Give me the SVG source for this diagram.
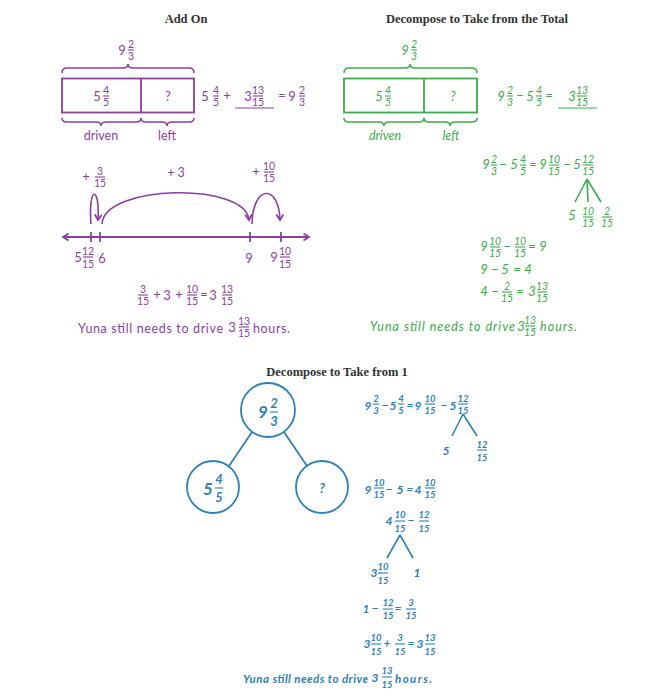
<svg xmlns="http://www.w3.org/2000/svg" width="662" height="698" viewBox="0 0 662 698">
<defs>
<linearGradient id="gl" x1="0" x2="1" y1="0" y2="0"><stop offset="0" stop-color="#f6f6f6"/><stop offset="1" stop-color="#dadada"/></linearGradient>
<linearGradient id="gt" x1="0" x2="0" y1="0" y2="1"><stop offset="0" stop-color="#eaeaea"/><stop offset="1" stop-color="#dcdcdc"/></linearGradient>
<marker id="nlp" markerUnits="userSpaceOnUse" markerWidth="10" markerHeight="10" refX="6" refY="4" orient="auto-start-reverse"><path d="M0.5,0.5 L6,4 L0.5,7.5" fill="none" stroke="#8c3f9e" stroke-width="1.8"/></marker>
<marker id="arp" markerUnits="userSpaceOnUse" markerWidth="10" markerHeight="10" refX="6" refY="4" orient="auto"><path d="M0.5,0.5 L6,4 L0.5,7.5" fill="none" stroke="#8c3f9e" stroke-width="1.8"/></marker>
</defs>
<style>
text{stroke:none}
.t{font-family:"Liberation Serif",serif;font-weight:bold;font-size:12.5px;fill:#333;text-anchor:middle}
.pu{fill:#8c3f9e;stroke:#8c3f9e;font-family:Lato,"Open Sans",sans-serif}
.gr{fill:#3dab4b;stroke:#3dab4b;font-family:Lato,"Open Sans",sans-serif;font-style:italic}
.bl{fill:#2f80b5;stroke:#2f80b5;font-family:Lato,"Open Sans",sans-serif;font-style:italic;font-weight:bold}
.w{font-size:13px;text-anchor:middle}
.f{font-size:10.5px;text-anchor:middle}
.s{font-size:12.5px}
.bl .w{font-size:12px}
.bl .f{font-size:9.5px}
line,path,rect,circle{fill:none}
.fb{stroke-width:1.1}
.bx{stroke-width:1.8}
.br{stroke-width:1.6}
</style>
<rect x="0" y="0" width="662" height="698" fill="#fff"/>
<rect x="0" y="0" width="11" height="698" fill="url(#gl)"/>
<rect x="0" y="0" width="662" height="7" fill="url(#gt)"/>

<!-- ===== Add On ===== -->
<g id="addon-title"><text class="t" x="186" y="23">Add On</text></g>
<g id="addon-bar" class="pu">
<text class="w" x="122" y="55">9</text><text class="f" x="131" y="48">2</text><line class="fb" x1="128" x2="134" y1="50" y2="50"/><text class="f" x="131" y="60">3</text>
<path class="br" d="M62,73 Q62,68 67,68 L123,68 Q128,68 128,64 Q128,68 133,68 L189,68 Q194,68 194,73"/>
<rect class="bx" x="62" y="78.5" width="132" height="34"/>
<line class="bx" x1="141" x2="141" y1="78.5" y2="112.5"/>
<text class="w" x="97" y="101">5</text><text class="f" x="106" y="94">4</text><line class="fb" x1="103" x2="109" y1="96" y2="96"/><text class="f" x="106" y="106">5</text>
<text class="w" x="168" y="101">?</text>
<path class="br" d="M62,118 Q62,122 67,122 L96,122 Q101,122 101,126 Q101,122 106,122 L136,122 Q141,122 141,118"/>
<path class="br" d="M141,118 Q141,122 146,122 L162,122 Q167,122 167,126 Q167,122 172,122 L189,122 Q194,122 194,118"/>
<text class="s" x="101" y="140" text-anchor="middle">driven</text>
<text class="s" x="167" y="140" text-anchor="middle">left</text>
</g>
<g id="addon-equation" class="pu">
<text class="w" x="205" y="101">5</text><text class="f" x="216" y="94">4</text><line class="fb" x1="213" x2="219" y1="96" y2="96"/><text class="f" x="216" y="106">5</text>
<text class="w" x="227" y="100">+</text>
<text class="w" x="248" y="101">3</text><text class="f" x="258" y="94">13</text><line class="fb" x1="253" x2="263" y1="96" y2="96"/><text class="f" x="258" y="106">15</text>
<line class="fb" x1="235" x2="274" y1="108" y2="108"/>
<text class="w" x="282" y="100">=</text>
<text class="w" x="292" y="101">9</text><text class="f" x="302" y="94">2</text><line class="fb" x1="299" x2="305" y1="96" y2="96"/><text class="f" x="302" y="106">3</text>
</g>
<g id="addon-numberline" class="pu">
<line class="bx" x1="63" x2="309" y1="237" y2="237" marker-start="url(#nlp)" marker-end="url(#nlp)"/>
<line class="bx" x1="91" x2="91" y1="232" y2="242"/>
<line class="bx" x1="100" x2="100" y1="232" y2="242"/>
<line class="bx" x1="250" x2="250" y1="232" y2="242"/>
<line class="bx" x1="281" x2="281" y1="232" y2="242"/>
<text class="w" x="78" y="262">5</text><text class="f" x="88" y="255">12</text><line class="fb" x1="83" x2="93" y1="257" y2="257"/><text class="f" x="88" y="268">15</text>
<text class="w" x="102" y="263">6</text>
<text class="w" x="249" y="263">9</text>
<text class="w" x="274" y="262">9</text><text class="f" x="285" y="255">10</text><line class="fb" x1="280" x2="290" y1="257" y2="257"/><text class="f" x="285" y="268">15</text>
</g>
<g id="addon-jumps" class="pu">
<path class="br" d="M91,224 C88,185 100,185 98,220" marker-end="url(#arp)"/>
<path class="br" d="M102,224 C104,184 246,182 249,220" marker-end="url(#arp)"/>
<path class="br" d="M252,224 C253,184 279,184 280,220" marker-end="url(#arp)"/>
<text class="w" x="86" y="181">+</text><text class="f" x="100" y="175">3</text><line class="fb" x1="95" x2="105" y1="177" y2="177"/><text class="f" x="100" y="187">15</text>
<text class="s" x="176" y="177" text-anchor="middle">+ 3</text>
<text class="w" x="256" y="176">+</text><text class="f" x="269" y="170">10</text><line class="fb" x1="264" x2="274" y1="172" y2="172"/><text class="f" x="269" y="182">15</text>
</g>
<g id="addon-sum" class="pu">
<text class="f" x="143" y="293">3</text><line class="fb" x1="138" x2="148" y1="295" y2="295"/><text class="f" x="143" y="305">15</text>
<text class="w" x="157" y="299">+</text><text class="w" x="167" y="300">3</text><text class="w" x="179" y="299">+</text>
<text class="f" x="192" y="293">10</text><line class="fb" x1="187" x2="197" y1="295" y2="295"/><text class="f" x="192" y="305">15</text>
<text class="w" x="204" y="299">=</text>
<text class="w" x="213" y="300">3</text><text class="f" x="227" y="293">13</text><line class="fb" x1="222" x2="232" y1="295" y2="295"/><text class="f" x="227" y="305">15</text>
</g>
<g id="addon-answer" class="pu">
<text class="s" x="78" y="333" textLength="145">Yuna still needs to drive</text>
<text class="w" x="232" y="332">3</text><text class="f" x="244" y="325">13</text><line class="fb" x1="239" x2="249" y1="327" y2="327"/><text class="f" x="244" y="337">15</text>
<text class="s" x="253" y="333" textLength="37">hours.</text>
</g>

<!-- ===== Decompose to Take from the Total ===== -->
<g id="total-title"><text class="t" x="477" y="23">Decompose to Take from the Total</text></g>
<g id="total-bar" class="gr">
<text class="w" x="405" y="55">9</text><text class="f" x="414" y="48">2</text><line class="fb" x1="411" x2="417" y1="50" y2="50"/><text class="f" x="414" y="60">3</text>
<path class="br" d="M344,73 Q344,68 349,68 L405,68 Q410,68 410,64 Q410,68 415,68 L472,68 Q477,68 477,73"/>
<rect class="bx" x="344" y="78.5" width="133" height="34"/>
<line class="bx" x1="424" x2="424" y1="78.5" y2="112.5"/>
<text class="w" x="379" y="101">5</text><text class="f" x="388" y="94">4</text><line class="fb" x1="385" x2="391" y1="96" y2="96"/><text class="f" x="388" y="106">5</text>
<text class="w" x="453" y="101">?</text>
<path class="br" d="M344,118 Q344,122 349,122 L379,122 Q384,122 384,126 Q384,122 389,122 L419,122 Q424,122 424,118"/>
<path class="br" d="M424,118 Q424,122 429,122 L445,122 Q450,122 450,126 Q450,122 455,122 L472,122 Q477,122 477,118"/>
<text class="s" x="385" y="140" text-anchor="middle">driven</text>
<text class="s" x="451" y="140" text-anchor="middle">left</text>
</g>
<g id="total-equation" class="gr">
<text class="w" x="501" y="101">9</text><text class="f" x="510" y="94">2</text><line class="fb" x1="507" x2="513" y1="96" y2="96"/><text class="f" x="510" y="106">3</text>
<text class="w" x="520" y="100">−</text>
<text class="w" x="530" y="101">5</text><text class="f" x="539" y="94">4</text><line class="fb" x1="536" x2="542" y1="96" y2="96"/><text class="f" x="539" y="106">5</text>
<text class="w" x="549" y="100">=</text>
<text class="w" x="572" y="101">3</text><text class="f" x="582" y="94">13</text><line class="fb" x1="577" x2="587" y1="96" y2="96"/><text class="f" x="582" y="106">15</text>
<line class="fb" x1="558" x2="597" y1="108" y2="108"/>
</g>
<g id="total-step1" class="gr">
<text class="w" x="486" y="169">9</text><text class="f" x="494" y="163">2</text><line class="fb" x1="491" x2="497" y1="165" y2="165"/><text class="f" x="494" y="175">3</text>
<text class="w" x="503" y="169">−</text>
<text class="w" x="514" y="169">5</text><text class="f" x="523" y="163">4</text><line class="fb" x1="520" x2="526" y1="165" y2="165"/><text class="f" x="523" y="175">5</text>
<text class="w" x="533" y="169">=</text>
<text class="w" x="543" y="169">9</text><text class="f" x="554" y="163">10</text><line class="fb" x1="549" x2="559" y1="165" y2="165"/><text class="f" x="554" y="175">15</text>
<text class="w" x="567" y="169">−</text>
<text class="w" x="577" y="169">5</text><text class="f" x="588" y="163">12</text><line class="fb" x1="583" x2="593" y1="165" y2="165"/><text class="f" x="588" y="175">15</text>
</g>
<g id="total-split" class="gr">
<text class="w" x="572" y="220">5</text>
<text class="f" x="588" y="215">10</text><line class="fb" x1="583" x2="593" y1="217" y2="217"/><text class="f" x="588" y="227">15</text>
<text class="f" x="607" y="215">2</text><line class="fb" x1="602" x2="612" y1="217" y2="217"/><text class="f" x="607" y="227">15</text>
</g>
<g id="total-steps" class="gr">
<text class="w" x="484" y="251">9</text><text class="f" x="495" y="245">10</text><line class="fb" x1="490" x2="500" y1="247" y2="247"/><text class="f" x="495" y="257">15</text>
<text class="w" x="507" y="251">−</text>
<text class="f" x="520" y="245">10</text><line class="fb" x1="515" x2="525" y1="247" y2="247"/><text class="f" x="520" y="257">15</text>
<text class="w" x="532" y="251">=</text><text class="w" x="543" y="251">9</text>
<text class="w" x="484" y="274">9</text><text class="w" x="495" y="274">−</text><text class="w" x="505" y="274">5</text><text class="w" x="517" y="274">=</text><text class="w" x="528" y="274">4</text>
<text class="w" x="484" y="296">4</text><text class="w" x="495" y="296">−</text>
<text class="f" x="507" y="290">2</text><line class="fb" x1="502" x2="512" y1="292" y2="292"/><text class="f" x="507" y="302">15</text>
<text class="w" x="520" y="296">=</text>
<text class="w" x="532" y="296">3</text><text class="f" x="542" y="290">13</text><line class="fb" x1="537" x2="547" y1="292" y2="292"/><text class="f" x="542" y="302">15</text>
</g>
<g id="total-answer" class="gr">
<text class="s" x="370" y="331" textLength="145">Yuna still needs to drive</text>
<text class="w" x="521" y="331">3</text><text class="f" x="530" y="324">13</text><line class="fb" x1="525" x2="535" y1="326" y2="326"/><text class="f" x="530" y="336">15</text>
<text class="s" x="540" y="331" textLength="37">hours.</text>
</g>

<!-- ===== Decompose to Take from 1 ===== -->
<g id="one-title"><text class="t" x="337" y="376">Decompose to Take from 1</text></g>
<g id="node-top" class="bl">
<circle class="bx" cx="268" cy="410" r="27"/>
<text x="263" y="418" style="font-size:17px;text-anchor:middle">9</text>
<text x="274" y="408" style="font-size:13px;text-anchor:middle">2</text><line class="fb" x1="270" x2="278" y1="412" y2="412"/><text x="274" y="426" style="font-size:13px;text-anchor:middle">3</text>
</g>
<g id="node-left" class="bl">
<circle class="bx" cx="213" cy="487" r="26"/>
<text x="208" y="495" style="font-size:17px;text-anchor:middle">5</text>
<text x="219" y="484" style="font-size:13px;text-anchor:middle">4</text><line class="fb" x1="215" x2="223" y1="488" y2="488"/><text x="219" y="502" style="font-size:13px;text-anchor:middle">5</text>
</g>
<g id="node-right" class="bl">
<circle class="bx" cx="322" cy="487" r="26"/>
<text x="322" y="493" style="font-size:13px;text-anchor:middle">?</text>
</g>
<g id="connectors" class="bl">
<line class="bx" x1="252" x2="229" y1="432" y2="466"/>
<line class="bx" x1="284" x2="307" y1="432" y2="466"/>
<line class="br" x1="587" x2="575" y1="179" y2="202" stroke="#3dab4b"/>
<line class="br" x1="587" x2="588" y1="179" y2="202" stroke="#3dab4b"/>
<line class="br" x1="587" x2="601" y1="179" y2="202" stroke="#3dab4b"/>
<line class="br" x1="463" x2="452" y1="414" y2="436"/>
<line class="br" x1="463" x2="477" y1="414" y2="436"/>
<line class="br" x1="400" x2="387" y1="535" y2="558"/>
<line class="br" x1="400" x2="413" y1="535" y2="558"/>
</g>
<g id="one-step1" class="bl">
<text class="w" x="368" y="410">9</text><text class="f" x="376" y="402">2</text><line class="fb" x1="373" x2="379" y1="404" y2="404"/><text class="f" x="376" y="414">3</text>
<text class="w" x="385" y="409">−</text>
<text class="w" x="393" y="410">5</text><text class="f" x="401" y="402">4</text><line class="fb" x1="398" x2="404" y1="404" y2="404"/><text class="f" x="401" y="414">5</text>
<text class="w" x="410" y="409">=</text>
<text class="w" x="418" y="410">9</text><text class="f" x="430" y="402">10</text><line class="fb" x1="425" x2="435" y1="404" y2="404"/><text class="f" x="430" y="414">15</text>
<text class="w" x="444" y="409">−</text>
<text class="w" x="453" y="410">5</text><text class="f" x="463" y="402">12</text><line class="fb" x1="458" x2="468" y1="404" y2="404"/><text class="f" x="463" y="414">15</text>
</g>
<g id="one-split1" class="bl">
<text class="w" x="446" y="455">5</text>
<text class="f" x="482" y="448">12</text><line class="fb" x1="477" x2="487" y1="450" y2="450"/><text class="f" x="482" y="461">15</text>
</g>
<g id="one-step2" class="bl">
<text class="w" x="368" y="494">9</text><text class="f" x="379" y="486">10</text><line class="fb" x1="374" x2="384" y1="488" y2="488"/><text class="f" x="379" y="498">15</text>
<text class="w" x="389" y="493">−</text><text class="w" x="400" y="494">5</text><text class="w" x="410" y="493">=</text>
<text class="w" x="418" y="494">4</text><text class="f" x="430" y="486">10</text><line class="fb" x1="425" x2="435" y1="488" y2="488"/><text class="f" x="430" y="498">15</text>
</g>
<g id="one-step3" class="bl">
<text class="w" x="389" y="525">4</text><text class="f" x="400" y="518">10</text><line class="fb" x1="395" x2="405" y1="521" y2="521"/><text class="f" x="400" y="532">15</text>
<text class="w" x="411" y="524">−</text>
<text class="f" x="424" y="518">12</text><line class="fb" x1="419" x2="429" y1="521" y2="521"/><text class="f" x="424" y="532">15</text>
</g>
<g id="one-split2" class="bl">
<text class="w" x="374" y="577">3</text><text class="f" x="383" y="570">10</text><line class="fb" x1="378" x2="388" y1="573" y2="573"/><text class="f" x="383" y="584">15</text>
<text class="w" x="417" y="577">1</text>
</g>
<g id="one-step4" class="bl">
<text class="w" x="366" y="613">1</text><text class="w" x="375" y="612">−</text>
<text class="f" x="388" y="606">12</text><line class="fb" x1="383" x2="393" y1="609" y2="609"/><text class="f" x="388" y="619">15</text>
<text class="w" x="398" y="612">=</text>
<text class="f" x="411" y="606">3</text><line class="fb" x1="406" x2="416" y1="609" y2="609"/><text class="f" x="411" y="619">15</text>
</g>
<g id="one-step5" class="bl">
<text class="w" x="367" y="648">3</text><text class="f" x="376" y="641">10</text><line class="fb" x1="371" x2="381" y1="644" y2="644"/><text class="f" x="376" y="655">15</text>
<text class="w" x="387" y="647">+</text>
<text class="f" x="400" y="641">3</text><line class="fb" x1="395" x2="405" y1="644" y2="644"/><text class="f" x="400" y="655">15</text>
<text class="w" x="411" y="647">=</text>
<text class="w" x="420" y="648">3</text><text class="f" x="430" y="641">13</text><line class="fb" x1="425" x2="435" y1="644" y2="644"/><text class="f" x="430" y="655">15</text>
</g>
<g id="one-answer" class="bl">
<text x="243" y="683" style="font-size:11.5px" textLength="125">Yuna still needs to drive</text>
<text class="w" x="375" y="682">3</text><text class="f" x="387" y="674">13</text><line class="fb" x1="382" x2="392" y1="677" y2="677"/><text class="f" x="387" y="688">15</text>
<text x="395" y="683" style="font-size:11.5px" textLength="37">hours.</text>
</g>
</svg>
